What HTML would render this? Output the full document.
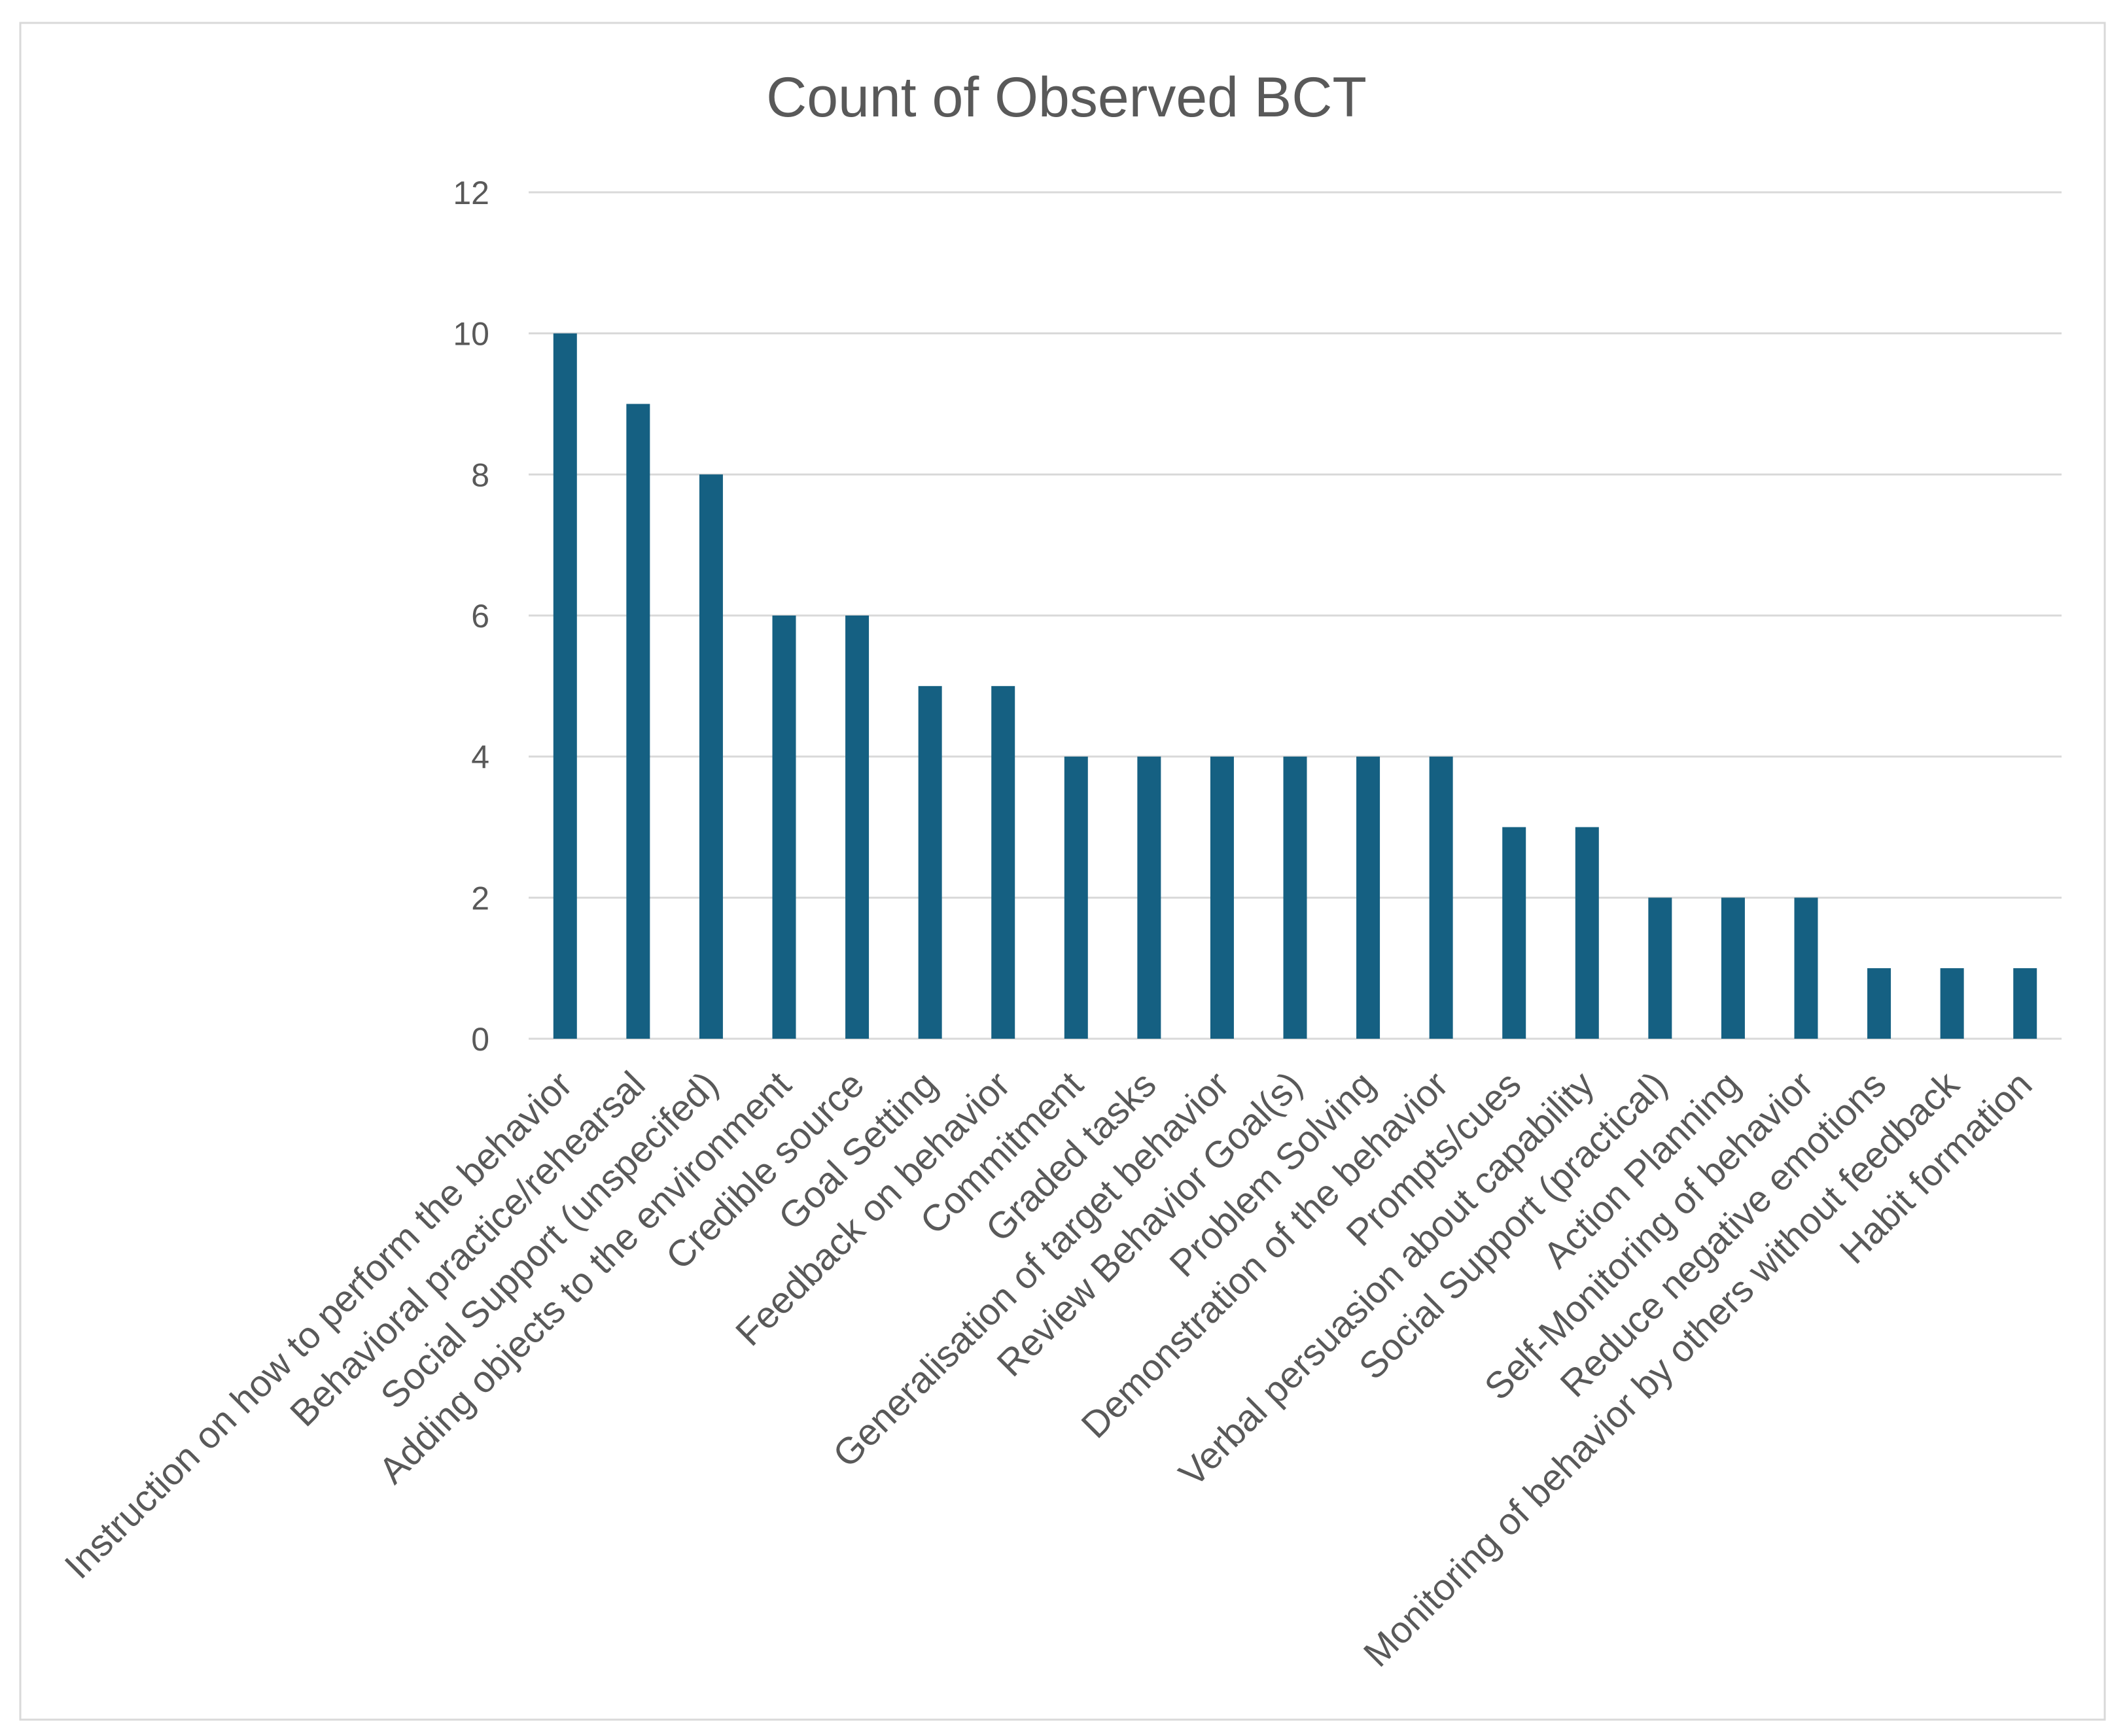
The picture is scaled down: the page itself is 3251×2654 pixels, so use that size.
<!DOCTYPE html>
<html><head><meta charset="utf-8"><style>
html,body{margin:0;padding:0;background:#fff;}
svg{display:block;font-family:"Liberation Sans",sans-serif;}
</style></head><body>
<svg id="chart" width="3251" height="2654" viewBox="0 0 3251 2654">
<rect x="31" y="35" width="3186" height="2594" fill="#fff" stroke="#d9d9d9" stroke-width="3"/>
<text x="1630" y="178" text-anchor="middle" font-size="86" fill="#595959">Count of Observed BCT</text>
<g id="grid"></g><g id="bars"></g><g id="xlabels"></g><g id="ylabels"></g>
</svg>
<script>
const categories=["Instruction on how to perform the behavior","Behavioral practice/rehearsal","Social Support (unspecifed)","Adding objects to the environment","Credible source","Goal Setting","Feedback on behavior","Commitment","Graded tasks","Generalisation of target behavior","Review Behavior Goal(s)","Problem Solving","Demonstration of the behavior","Prompts/cues","Verbal persuasion about capability","Social Support (practical)","Action Planning","Self-Monitoring of behavior","Reduce negative emotions","Monitoring of behavior by others without feedback","Habit formation"];
const counts=[10,9,8,6,6,5,5,4,4,4,4,4,4,3,3,2,2,2,1,1,1];
const yTicks=[0,2,4,6,8,10,12];
const NS="http://www.w3.org/2000/svg";
const x0=808,x1=3151,y0=1588,yTop=294,yMax=12;
const band=(x1-x0)/categories.length;
const yS=v=>y0-(v/yMax)*(y0-yTop);
const xC=i=>x0+(i+0.5)*band;
function mk(t,a,p){const e=document.createElementNS(NS,t);for(const k in a)e.setAttribute(k,a[k]);p.appendChild(e);return e;}
const grid=document.getElementById('grid'),yl=document.getElementById('ylabels');
yTicks.forEach(v=>{
 const l=mk('line',{x1:x0,x2:x1,y1:yS(v),y2:yS(v),stroke:'#d9d9d9','stroke-width':3},grid);
 
 
 const t=mk('text',{x:748,y:yS(v)+18,'text-anchor':'end','font-size':50,fill:'#595959'},yl);
 t.textContent=v;
 
 
});
const bars=document.getElementById('bars'),xl=document.getElementById('xlabels');
categories.forEach((c,i)=>{
 const w=36,cx=xC(i);
 const r=mk('rect',{x:cx-w/2,y:yS(counts[i]),width:w,height:y0-yS(counts[i]),fill:'#156082'},bars);
 
 
 const tx=cx+14,ty=1662;
 const t=mk('text',{x:tx,y:ty,'text-anchor':'end','font-size':57,fill:'#595959',transform:'rotate(-45 '+tx+' '+ty+')'},xl);
 t.textContent=c;
 
 
});
</script>
</body></html>
